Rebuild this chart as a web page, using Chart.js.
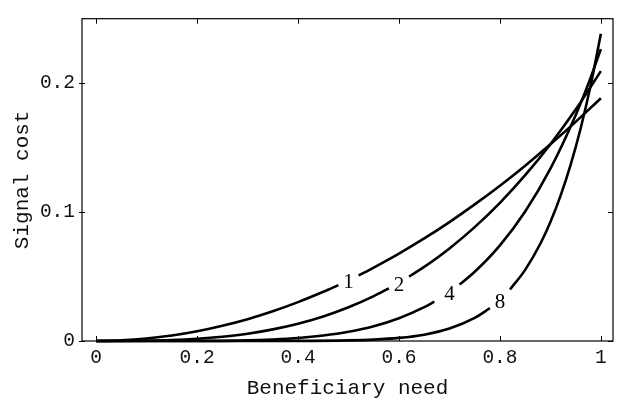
<!DOCTYPE html>
<html><head><meta charset="utf-8">
<script src="https://cdn.jsdelivr.net/npm/chart.js@4/dist/chart.umd.min.js"></script>
<style>html,body{margin:0;padding:0;background:#fff}</style>
</head><body>
<canvas id="c" width="621" height="399"></canvas>
<script>
// Beneficiary need (x) and signal cost (y), one pair of arrays per curve.
// A null marks where the curve is interrupted for its inline label.
const need1 = [0, 0.05, 0.1, 0.15, 0.2, 0.25, 0.3, 0.35, 0.4, 0.45, 0.48, 0.5, 0.52, 0.55, 0.6, 0.65, 0.7, 0.75, 0.8, 0.85, 0.9, 0.95, 1.0];
const cost1 = [0, 0.0005, 0.0019, 0.0042, 0.0075, 0.0118, 0.0169, 0.0230, 0.0301, 0.0381, 0.0433, null, 0.0508, 0.0569, 0.0677, 0.0794, 0.0921, 0.1058, 0.1203, 0.1358, 0.1523, 0.1697, 0.188];

const need2 = [0, 0.05, 0.1, 0.15, 0.2, 0.25, 0.3, 0.35, 0.4, 0.45, 0.5, 0.55, 0.58, 0.6, 0.62, 0.65, 0.7, 0.75, 0.8, 0.85, 0.9, 0.95, 1.0];
const cost2 = [0, 0.00003, 0.0002, 0.0007, 0.0017, 0.0033, 0.0056, 0.0090, 0.0134, 0.0190, 0.0261, 0.0348, 0.0408, null, 0.0498, 0.0574, 0.0717, 0.0882, 0.1070, 0.1284, 0.1524, 0.1792, 0.209];

const need4 = [0, 0.1, 0.2, 0.3, 0.35, 0.4, 0.45, 0.5, 0.55, 0.6, 0.65, 0.67, 0.7, 0.72, 0.75, 0.8, 0.85, 0.9, 0.95, 0.975, 1.0];
const cost4 = [0, 0.000002, 0.00007, 0.0005, 0.0012, 0.0023, 0.0042, 0.0071, 0.0114, 0.0176, 0.0262, 0.0305, null, 0.0437, 0.0536, 0.0741, 0.1003, 0.1335, 0.1749, 0.1990, 0.226];

const need8 = [0, 0.1, 0.2, 0.3, 0.4, 0.5, 0.55, 0.6, 0.65, 0.7, 0.75, 0.78, 0.8, 0.82, 0.85, 0.88, 0.9, 0.92, 0.94, 0.96, 0.98, 1.0];
const cost8 = [0, 0, 0, 0.000005, 0.00006, 0.0005, 0.0011, 0.0024, 0.0049, 0.0096, 0.0179, 0.0254, null, 0.0399, 0.0551, 0.0753, 0.0922, 0.1124, 0.1364, 0.1648, 0.1984, 0.238];

// Inline curve labels and where they sit
const curveLabels = ["1", "2", "4", "8"];
const labelNeed = [0.5, 0.6, 0.7, 0.8];
const labelCost = [0.046, 0.044, 0.0366, 0.0308];

// Axis ticks
const xTickValues = [0, 0.2, 0.4, 0.6, 0.8, 1];
const xTickLabels = ["0", "0.2", "0.4", "0.6", "0.8", "1"];
const yTickValues = [0, 0.1, 0.2];
const yTickLabels = ["0", "0.1", "0.2"];

const curves = [[need1, cost1], [need2, cost2], [need4, cost4], [need8, cost8]];

const MONO = '"Liberation Mono", "Courier New", monospace';
const SERIF = '"Liberation Serif", "Times New Roman", serif';

const framePlugin = {
  id: 'frame',
  afterDatasetsDraw(chart) {
    const {ctx, chartArea: a, scales: {x, y}} = chart;
    ctx.save();
    ctx.strokeStyle = '#000';
    ctx.lineWidth = 1.2;
    ctx.strokeRect(a.left, a.top, a.right - a.left, a.bottom - a.top);
    ctx.lineWidth = 1;
    ctx.beginPath();
    x.ticks.forEach(t => {
      const px = Math.round(x.getPixelForValue(t.value)) + 0.5;
      ctx.moveTo(px, a.bottom); ctx.lineTo(px, a.bottom - 5);
      ctx.moveTo(px, a.top); ctx.lineTo(px, a.top + 5);
    });
    y.ticks.forEach(t => {
      const py = Math.round(y.getPixelForValue(t.value)) + 0.5;
      ctx.moveTo(a.left - 3, py); ctx.lineTo(a.left + 3, py);
      ctx.moveTo(a.right, py); ctx.lineTo(a.right - 5, py);
    });
    ctx.stroke();
    // inline labels
    ctx.fillStyle = '#000';
    ctx.font = '21px ' + SERIF;
    ctx.textAlign = 'center';
    ctx.textBaseline = 'middle';
    curveLabels.forEach((t, i) => {
      ctx.fillText(t, x.getPixelForValue(labelNeed[i]), y.getPixelForValue(labelCost[i]) + 1);
    });
    ctx.restore();
  }
};

new Chart(document.getElementById('c'), {
  type: 'line',
  data: {
    datasets: curves.map((c, i) => ({
      label: curveLabels[i],
      data: c[0].map((v, j) => ({x: v, y: c[1][j]})),
      borderColor: '#000',
      borderWidth: 2.6,
      pointRadius: 0,
      fill: false,
      spanGaps: false,
      cubicInterpolationMode: 'monotone',
      clip: 3
    }))
  },
  options: {
    responsive: false,
    animation: false,
    layout: {padding: {left: 0, right: 8, top: 12, bottom: 0}},
    plugins: {legend: {display: false}, tooltip: {enabled: false}},
    scales: {
      x: {
        type: 'linear',
        min: -0.028, max: 1.024,
        afterBuildTicks: s => { s.ticks = xTickValues.map(v => ({value: v})); },
        afterFit: s => { s.height = 58; },
        grid: {display: false, drawTicks: false},
        border: {display: false},
        ticks: {
          autoSkip: false, maxRotation: 0, padding: 5, color: '#111',
          font: {family: MONO, size: 19.5},
          callback: (v) => { const k = xTickValues.indexOf(v); return k >= 0 ? xTickLabels[k] : ''; }
        },
        title: {display: true, text: 'Beneficiary need', color: '#111',
          font: {family: MONO, size: 21, lineHeight: 1}, padding: {top: 0, bottom: 0}}
      },
      y: {
        type: 'linear',
        min: 0, max: 0.2496,
        afterBuildTicks: s => { s.ticks = yTickValues.map(v => ({value: v})); },
        afterFit: s => { s.width = 82; },
        grid: {display: false, drawTicks: false},
        border: {display: false},
        ticks: {
          autoSkip: false, padding: 7, color: '#111',
          font: {family: MONO, size: 19.5},
          callback: (v) => { const k = yTickValues.indexOf(v); return k >= 0 ? yTickLabels[k] : ''; }
        },
        title: {display: true, text: 'Signal cost', color: '#111',
          font: {family: MONO, size: 21, lineHeight: 1.2}, padding: {top: 10, bottom: 0}}
      }
    }
  },
  plugins: [framePlugin]
});
</script>
</body></html>
